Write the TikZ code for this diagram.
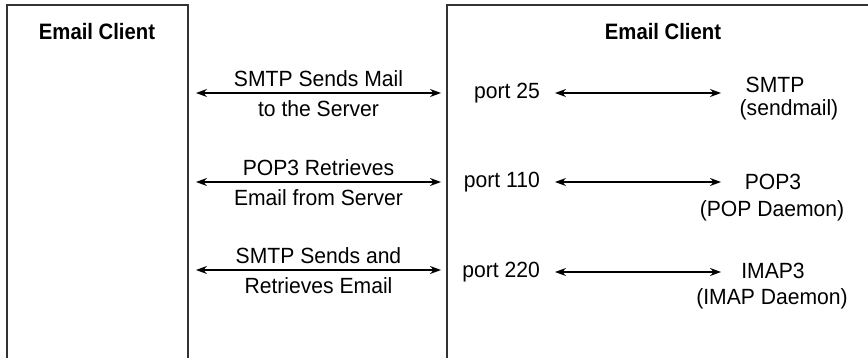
\documentclass[tikz,border=0pt]{standalone}
\usepackage{fontspec}
\setmainfont[FakeStretch=0.96]{Liberation Sans}
\newfontfamily\headfont[FakeStretch=0.91]{Liberation Sans}
\usetikzlibrary{arrows.meta}
\tikzstyle{frame} = [draw=black!80, line width=1.5pt]
\tikzstyle{title} = [font=\headfont\bfseries\fontsize{22.3}{24}\selectfont]
\tikzstyle{label} = [font=\fontsize{22}{24}\selectfont, inner sep=0pt]
\tikzstyle{port} = [label, anchor=east]
\tikzstyle{arrow} = [line width=1.2pt, {Stealth[length=11pt,width=8pt]}-{Stealth[length=11pt,width=8pt]}]

\begin{document}
\begin{tikzpicture}[x=1pt, y=-1pt]
\useasboundingbox (0,0) rectangle (868,358);

% the two boxes
\draw [frame] (7,358) -- (7,5) -- (188,5) -- (188,358);
\draw [frame] (447,358) -- (447,5) -- (868,5);

\node (client) [title] at (97,32) {Email Client};
\node (server) [title] at (663,32) {Email Client};

% links between the boxes
\coordinate (l1) at (196,93);  \coordinate (r1) at (441,93);
\coordinate (l2) at (196,182); \coordinate (r2) at (441,182);
\coordinate (l3) at (196,270); \coordinate (r3) at (441,270);

\draw [arrow] (l1) -- node[label, above=6pt] {SMTP Sends Mail} node[label, below=7pt] {to the Server} (r1);
\draw [arrow] (l2) -- node[label, above=6pt] {POP3 Retrieves} node[label, below=7pt] {Email from Server} (r2);
\draw [arrow] (l3) -- node[label, above=6pt] {SMTP Sends and} node[label, below=7pt] {Retrieves Email} (r3);

% ports and daemons
\node (p25) [port] at (540,93) {port 25};
\node (p110) [port] at (540,182) {port 110};
\node (p220) [port] at (540,272) {port 220};

\node (smtp) [label] at (775,85) {SMTP};
\node (sendmail) [label] at (789,110) {(sendmail)};
\node (pop) [label] at (773,182) {POP3};
\node (popd) [label] at (772,211) {(POP Daemon)};
\node (imap) [label] at (773,271) {IMAP3};
\node (imapd) [label] at (772,299) {(IMAP Daemon)};

\coordinate (a1) at (555,93);  \coordinate (b1) at (721,93);
\coordinate (a2) at (555,182); \coordinate (b2) at (721,182);
\coordinate (a3) at (555,272); \coordinate (b3) at (721,272);

\draw [arrow] (a1) -- (b1);
\draw [arrow] (a2) -- (b2);
\draw [arrow] (a3) -- (b3);

\end{tikzpicture}
\end{document}
